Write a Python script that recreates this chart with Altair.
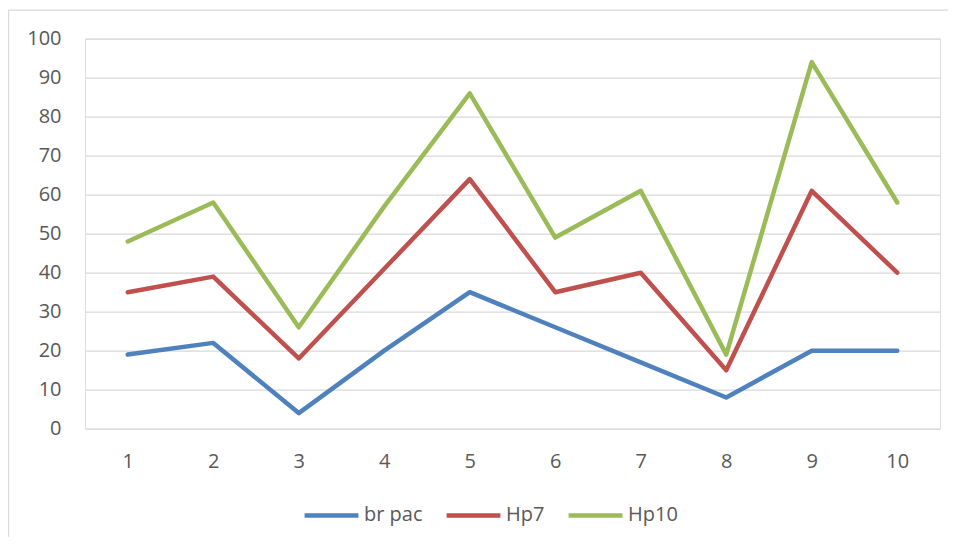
import altair as alt
import pandas as pd

categories = [1, 2, 3, 4, 5, 6, 7, 8, 9, 10]
br_pac = [19, 22, 4, 20, 35, 26, 17, 8, 20, 20]
hp7 = [35, 39, 18, 41, 64, 35, 40, 15, 61, 40]
hp10 = [48, 58, 26, 57, 86, 49, 61, 19, 94, 58]
series_names = ["br pac", "Hp7", "Hp10"]
series_colors = ["#4F81BD", "#C0504D", "#9BBB59"]
y_ticks = [0, 10, 20, 30, 40, 50, 60, 70, 80, 90, 100]

rows = []
for name, vals in zip(series_names, [br_pac, hp7, hp10]):
    for c, v in zip(categories, vals):
        rows.append({"x": c, "value": v, "series": name})
df = pd.DataFrame(rows)

FONT = "Open Sans"
TXT = "#595959"
GRID = "#D9D9D9"

lines = alt.Chart(df).mark_line(strokeWidth=4.5, strokeCap="round", strokeJoin="round").encode(
    x=alt.X("x:O", title=None,
            axis=alt.Axis(labelAngle=0, labelFont=FONT, labelFontSize=20, labelColor=TXT,
                          labelPadding=23, ticks=False, tickSize=0, domain=False, grid=False)),
    y=alt.Y("value:Q", title=None, scale=alt.Scale(domain=[0, 100], nice=False, zero=True),
            axis=alt.Axis(values=y_ticks, labelFont=FONT, labelFontSize=20, labelColor=TXT,
                          labelPadding=24, ticks=False, tickSize=0, domain=False,
                          grid=True, gridColor=GRID, gridWidth=1.3)),
    color=alt.Color("series:N", sort=series_names,
                    scale=alt.Scale(domain=series_names, range=series_colors),
                    legend=alt.Legend(title=None, orient="none", direction="horizontal",
                                      legendX=217, legendY=447,
                                      symbolType="stroke", symbolSize=2900,
                                      symbolStrokeWidth=4.5,
                                      labelFont=FONT, labelFontSize=20, labelColor=TXT,
                                      labelOffset=3, columnPadding=14, padding=0)),
    order=alt.Order("x:O"),
)

one = pd.DataFrame({"a": [0]})
frame_left = alt.Chart(one).mark_rule(stroke=GRID, strokeWidth=1.3).encode(
    x=alt.value(-76.5), y=alt.value(-28.5), y2=alt.value(498)
)
frame_top = alt.Chart(one).mark_rule(stroke=GRID, strokeWidth=1.3).encode(
    x=alt.value(-76.5), x2=alt.value(863), y=alt.value(-28.5)
)

chart = alt.layer(frame_left, frame_top, lines).properties(
    width=855, height=390,
    autosize=alt.AutoSizeParams(type="none"),
    padding={"left": 77, "top": 30.7, "right": 8, "bottom": 108},
).configure_view(stroke=None).configure(background="white")

chart.save("out.html", embed_options={"renderer": "svg", "actions": False})
